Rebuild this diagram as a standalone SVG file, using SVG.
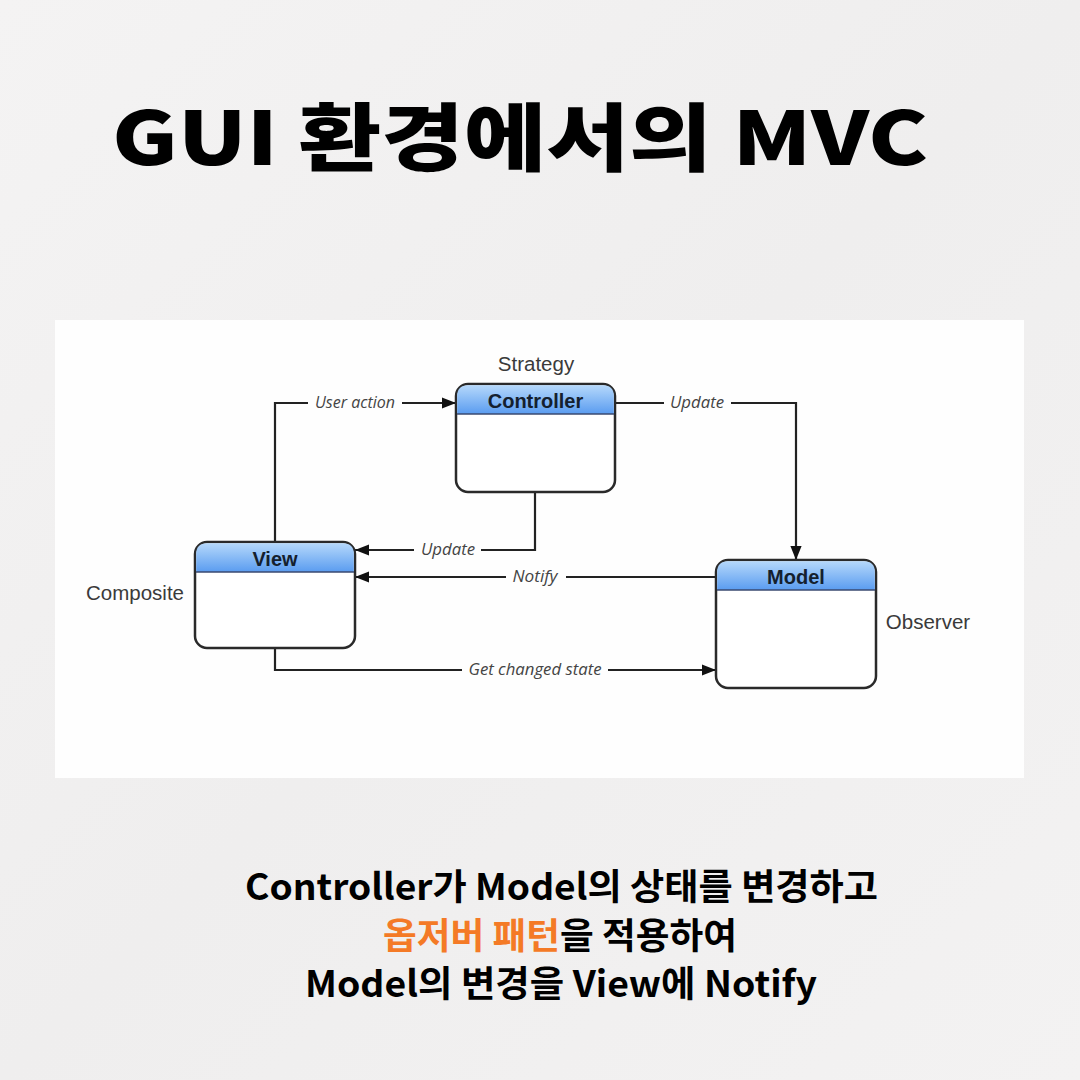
<svg xmlns="http://www.w3.org/2000/svg" width="1080" height="1080" viewBox="0 0 1080 1080">
<defs>
<linearGradient id="bg" x1="0" y1="0" x2="1" y2="1">
<stop offset="0" stop-color="#f4f3f3"/>
<stop offset="0.5" stop-color="#efeeee"/>
<stop offset="1" stop-color="#f3f2f2"/>
</linearGradient>
<linearGradient id="hdr" x1="0" y1="0" x2="0" y2="1">
<stop offset="0" stop-color="#b5d8fb"/>
<stop offset="1" stop-color="#5a9cf0"/>
</linearGradient>
<marker id="arr" viewBox="0 0 10 10" refX="10" refY="5" markerWidth="24" markerHeight="14" markerUnits="userSpaceOnUse" orient="auto">
<path d="M0,1 L10,5 L0,9 Z" fill="#111"/>
</marker>
</defs>
<style>
.title{font-family:"Noto Sans CJK KR","Noto Sans",sans-serif;font-weight:900;font-size:74px;fill:#000}
.cap{font-family:"Noto Sans CJK KR","Noto Sans",sans-serif;font-weight:700;font-size:36px;fill:#000}
.orange{fill:#f47a26}
.box{fill:#fff;stroke:#2a2a2a;stroke-width:2.5}
.hline{stroke:#3a4a70;stroke-width:1.5}
.bname{font-family:"Liberation Sans",Arial,sans-serif;font-weight:700;font-size:20px;fill:#14202e;text-anchor:middle}
.role{font-family:"Liberation Sans",Arial,sans-serif;font-size:20.5px;fill:#3a3a3a;text-anchor:middle}
.lbl{font-family:"Open Sans","Liberation Sans",sans-serif;font-style:italic;font-size:15.5px;fill:#444;text-anchor:middle}
.conn{fill:none;stroke:#222;stroke-width:2.2}
</style>
<rect width="1080" height="1080" fill="url(#bg)"/>
<text class="title" x="112" y="165" textLength="816" lengthAdjust="spacingAndGlyphs">GUI 환경에서의 MVC</text>
<rect x="55" y="320" width="969" height="458" fill="#fefefe"/>

<g id="connectors">
<polyline class="conn" points="275,542 275,403 308,403"/>
<line class="conn" x1="402" y1="403" x2="456" y2="403" marker-end="url(#arr)"/>
<text class="lbl" x="355" y="408" textLength="80" lengthAdjust="spacingAndGlyphs">User action</text>

<line class="conn" x1="615" y1="403" x2="664" y2="403"/>
<polyline class="conn" points="731,403 796,403 796,560" marker-end="url(#arr)"/>
<text class="lbl" x="697" y="408" textLength="54" lengthAdjust="spacingAndGlyphs">Update</text>

<polyline class="conn" points="535,492 535,550 481,550"/>
<line class="conn" x1="414" y1="550" x2="355" y2="550" marker-end="url(#arr)"/>
<text class="lbl" x="448" y="555" textLength="54" lengthAdjust="spacingAndGlyphs">Update</text>

<line class="conn" x1="716" y1="577" x2="566" y2="577"/>
<line class="conn" x1="506" y1="577" x2="355" y2="577" marker-end="url(#arr)"/>
<text class="lbl" x="535" y="582" textLength="45" lengthAdjust="spacingAndGlyphs">Notify</text>

<polyline class="conn" points="275,648 275,670 462,670"/>
<line class="conn" x1="608" y1="670" x2="716" y2="670" marker-end="url(#arr)"/>
<text class="lbl" x="535" y="675" textLength="133" lengthAdjust="spacingAndGlyphs">Get changed state</text>
</g>

<g id="controller">
<rect class="box" x="456" y="384" width="159" height="108" rx="12"/>
<path d="M457.2,414 L457.2,396 Q457.2,385.2 468,385.2 L603,385.2 Q613.8,385.2 613.8,396 L613.8,414 Z" fill="url(#hdr)"/>
<line class="hline" x1="457" y1="414" x2="614" y2="414"/>
<text class="bname" x="535.5" y="408">Controller</text>
<text class="role" x="536" y="371">Strategy</text>
</g>

<g id="view">
<rect class="box" x="195" y="542" width="160" height="106" rx="12"/>
<path d="M196.2,572 L196.2,554 Q196.2,543.2 207,543.2 L343,543.2 Q353.8,543.2 353.8,554 L353.8,572 Z" fill="url(#hdr)"/>
<line class="hline" x1="196" y1="572" x2="354" y2="572"/>
<text class="bname" x="275" y="566">View</text>
<text class="role" x="135" y="600">Composite</text>
</g>

<g id="model">
<rect class="box" x="716" y="560" width="160" height="128" rx="12"/>
<path d="M717.2,590 L717.2,572 Q717.2,561.2 728,561.2 L864,561.2 Q874.8,561.2 874.8,572 L874.8,590 Z" fill="url(#hdr)"/>
<line class="hline" x1="717" y1="590" x2="875" y2="590"/>
<text class="bname" x="796" y="584">Model</text>
<text class="role" x="928" y="629">Observer</text>
</g>

<text class="cap" x="245" y="900" textLength="633" lengthAdjust="spacingAndGlyphs">Controller가 Model의 상태를 변경하고</text>
<text class="cap" x="383" y="949" textLength="354" lengthAdjust="spacingAndGlyphs"><tspan class="orange">옵저버 패턴</tspan>을 적용하여</text>
<text class="cap" x="305" y="997" textLength="512" lengthAdjust="spacingAndGlyphs">Model의 변경을 View에 Notify</text>
</svg>
